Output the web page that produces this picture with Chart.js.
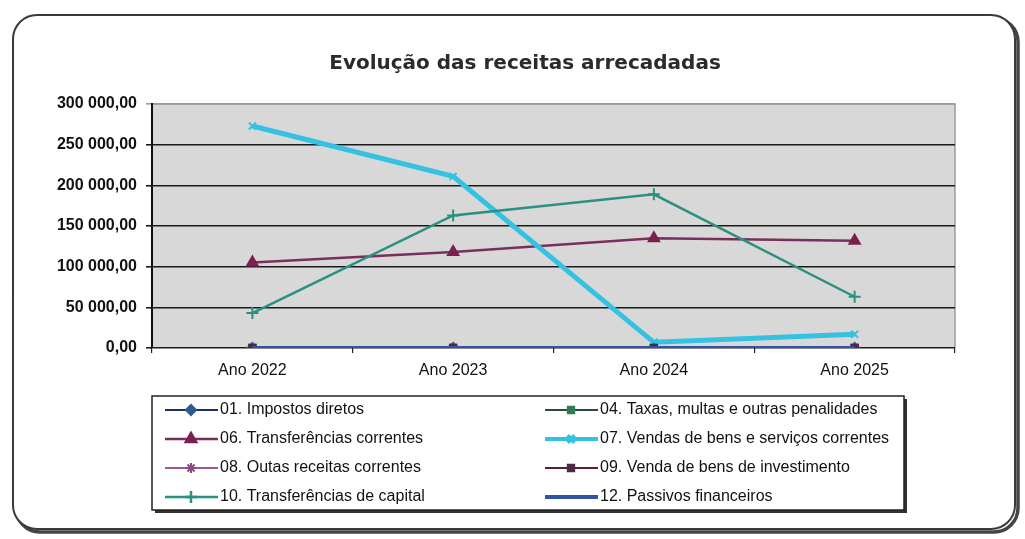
<!DOCTYPE html>
<html><head><meta charset="utf-8">
<script src="https://cdn.jsdelivr.net/npm/chart.js@4.4.1/dist/chart.umd.min.js"></script>
<style>html,body{margin:0;padding:0;background:#fff;}</style>
</head><body>
<canvas id="c" width="1025" height="539"></canvas>
<script>
// ---- data ----
const categories = ['Ano 2022', 'Ano 2023', 'Ano 2024', 'Ano 2025'];
const seriesNames = [
  '01. Impostos diretos',
  '04. Taxas, multas e outras penalidades',
  '06. Transferências correntes',
  '07. Vendas de bens e serviços correntes',
  '08. Outas receitas correntes',
  '09. Venda de bens de investimento',
  '10. Transferências de capital',
  '12. Passivos financeiros'
];
const impostosDiretos = [0, 0, 0, 0];
const taxasMultas = [0, 0, 0, 0];
const transfCorrentes = [105000, 118000, 135000, 132000];
const vendasBensServicos = [273000, 211000, 7000, 17000];
const outrasReceitas = [0, 0, 0, 0];
const vendaBensInvest = [0, 0, 0, 0];
const transfCapital = [43000, 163000, 189000, 63000];
const passivosFinanceiros = [0, 0, 0, 0];
const yTickValues = [0, 50000, 100000, 150000, 200000, 250000, 300000];
const chartTitle = 'Evolução das receitas arrecadadas';

const seriesValues = [impostosDiretos, taxasMultas, transfCorrentes, vendasBensServicos,
  outrasReceitas, vendaBensInvest, transfCapital, passivosFinanceiros];

// ---- styles ----
const styles = [
  {line:'#1f2f5f', mark:'#2f5a8f', ps:'rectRot', r:5, w:2},
  {line:'#2a4a3a', mark:'#2e7d55', ps:'rect', r:4.5, w:2},
  {line:'#7a2f5a', mark:'#7a2050', ps:'triangle', r:6, w:2.5},
  {line:'#35c2e2', mark:'#35c2e2', ps:'crossRot', r:5, w:5},
  {line:'#9a5a90', mark:'#8a4a80', ps:'star', r:5, w:2},
  {line:'#5a2030', mark:'#4a2a48', ps:'rect', r:4.5, w:2},
  {line:'#2a9080', mark:'#2a9080', ps:'cross', r:6, w:2.5},
  {line:'#3052a8', mark:'#3052a8', ps:'line', r:0, w:4}
];

function fmt(v) {
  const s = Number(v).toFixed(2);
  const [i, d] = s.split('.');
  return i.replace(/\B(?=(\d{3})+(?!\d))/g, ' ') + ',' + d;
}

const frameAndBg = {
  id: 'frameAndBg',
  beforeDraw(chart) {
    const ctx = chart.ctx, a = chart.chartArea;
    ctx.save();
    ctx.fillStyle = '#fff';
    ctx.fillRect(0, 0, chart.width, chart.height);
    // outer frame shadow
    ctx.beginPath();
    ctx.roundRect(16, 18, 1002, 514, 24);
    ctx.strokeStyle = '#444'; ctx.lineWidth = 3.5; ctx.stroke();
    ctx.beginPath();
    ctx.roundRect(13, 15, 1002, 514, 24);
    ctx.fillStyle = '#fff'; ctx.fill();
    ctx.strokeStyle = '#3a3a3a'; ctx.lineWidth = 2; ctx.stroke();
    // plot background
    ctx.fillStyle = '#d8d8d8';
    ctx.fillRect(a.left, a.top, a.right - a.left, a.bottom - a.top);
    ctx.strokeStyle = '#9a9a9a'; ctx.lineWidth = 1.5;
    ctx.beginPath();
    ctx.moveTo(a.left, a.top); ctx.lineTo(a.right, a.top); ctx.lineTo(a.right, a.bottom);
    ctx.stroke();
    // title
    ctx.fillStyle = '#2b2b2b';
    ctx.font = 'bold 20px "DejaVu Sans"';
    ctx.textAlign = 'center'; ctx.textBaseline = 'middle';
    ctx.fillText(chartTitle, 525, 64);
    ctx.restore();
  },
  afterDraw(chart) {
    const ctx = chart.ctx;
    ctx.save();
    // legend box
    const bx = 152, by = 396, bw = 752, bh = 114;
    ctx.fillStyle = '#333';
    ctx.fillRect(bx + 3, by + 3, bw, bh);
    ctx.fillStyle = '#fff';
    ctx.fillRect(bx, by, bw, bh);
    ctx.strokeStyle = '#222'; ctx.lineWidth = 1.5;
    ctx.strokeRect(bx, by, bw, bh);
    const rowY = [410, 439, 468, 497];
    const colX = [165, 545];
    ctx.font = '16px "Liberation Sans"';
    ctx.textAlign = 'left'; ctx.textBaseline = 'middle';
    chart.data.datasets.forEach((ds, i) => {
      const st = styles[i];
      const x0 = colX[i % 2], y = rowY[Math.floor(i / 2)];
      ctx.strokeStyle = st.line; ctx.lineWidth = Math.min(st.w, 4);
      ctx.beginPath(); ctx.moveTo(x0, y); ctx.lineTo(x0 + 53, y); ctx.stroke();
      if (st.r > 0) {
        ctx.fillStyle = st.mark; ctx.strokeStyle = st.mark;
        Chart.helpers.drawPoint(ctx, {pointStyle: st.ps, radius: st.r, borderWidth: 2, rotation: 0}, x0 + 26, y);
      }
      ctx.fillStyle = '#111';
      ctx.fillText(ds.label, x0 + 55, y);
    });
    ctx.restore();
  }
};

const datasets = seriesNames.map((name, i) => ({
  label: name,
  data: seriesValues[i],
  borderColor: styles[i].line,
  backgroundColor: styles[i].mark,
  pointBackgroundColor: styles[i].mark,
  pointBorderColor: styles[i].mark,
  pointStyle: styles[i].ps,
  pointRadius: styles[i].r,
  pointBorderWidth: 2,
  borderWidth: styles[i].w,
  tension: 0,
  fill: false,
  order: -i
}));

new Chart(document.getElementById('c'), {
  type: 'line',
  data: { labels: categories, datasets },
  plugins: [frameAndBg],
  options: {
    responsive: false,
    animation: false,
    devicePixelRatio: 1,
    layout: { padding: { left: 0, right: 70, top: 104, bottom: 0 } },
    plugins: { legend: { display: false }, title: { display: false }, tooltip: { enabled: false } },
    scales: {
      x: {
        offset: true,
        grid: { display: true, drawOnChartArea: false, drawTicks: true, tickLength: 5, offset: true, color: '#222', lineWidth: 1.2 },
        border: { display: false },
        ticks: { color: '#111', padding: 8, font: { family: 'Liberation Sans', size: 16 } },
        afterFit(s) { s.height = 191; }
      },
      y: {
        min: 0, max: 300000,
        afterBuildTicks(s) { s.ticks = yTickValues.map(v => ({ value: v })); },
        ticks: { callback: fmt, color: '#111', padding: 9, font: { family: 'Liberation Sans', size: 16, weight: 'bold' } },
        grid: { color: (c) => (c.tick && c.tick.value === 300000) ? '#9a9a9a' : '#1a1a1a', lineWidth: 1.6, tickLength: 6, drawTicks: true },
        border: { display: true, color: '#111', width: 2 },
        afterFit(s) { s.width = 152; }
      }
    }
  }
});
</script>
</body></html>
